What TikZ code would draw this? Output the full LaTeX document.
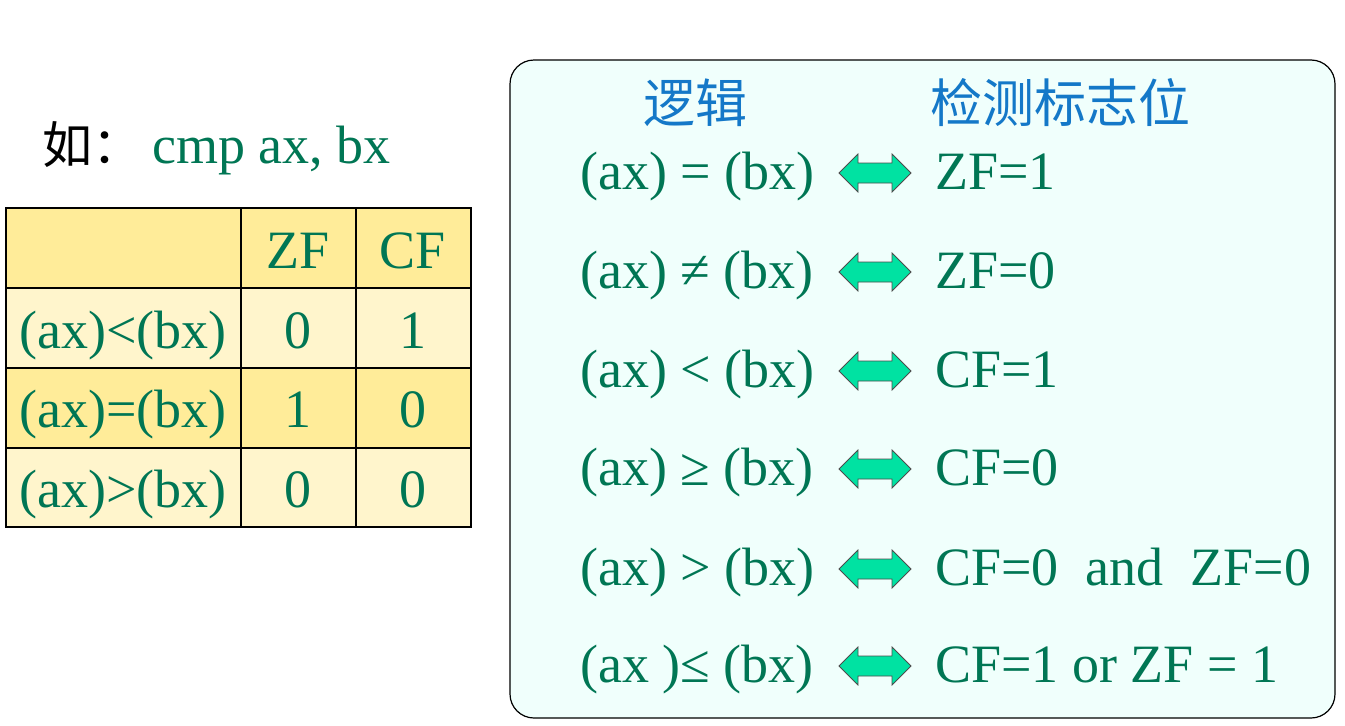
\documentclass[tikz,border=0pt]{standalone}
\usepackage{fontspec}
\setmainfont{Liberation Serif}
\newfontfamily\cjk{Noto Sans CJK SC}
\definecolor{txtgreen}{RGB}{0,118,84}
\definecolor{hdblue}{RGB}{20,120,200}
\definecolor{arrfill}{RGB}{0,226,162}
\definecolor{boxfill}{RGB}{240,255,252}
\definecolor{tdark}{RGB}{255,236,153}
\definecolor{tlight}{RGB}{255,245,204}
\tikzset{
  big/.style={font=\fontsize{54}{60}\selectfont, text=txtgreen, inner sep=0pt},
  cjkhead/.style={font=\cjk\fontsize{52}{58}\selectfont, text=hdblue, inner sep=0pt},
  lhs/.style={big, anchor=base west},
  rhs/.style={big, anchor=base west},
  cell/.style={big, anchor=base},
  tline/.style={line width=1.6pt, black},
  arrowstyle/.style={fill=arrfill, draw=black!70, line width=0.8pt, line join=miter},
  dblarrow/.pic={\draw[arrowstyle] (-36,0)--(-17,-19)--(-17,-10)--(17,-10)--(17,-19)--(36,0)--(17,19)--(17,10)--(-17,10)--(-17,19)--cycle;}
}
\begin{document}
\begin{tikzpicture}[x=1pt,y=-1pt]
\useasboundingbox[fill=white] (0,0) rectangle (1345,726);
% title
\node[anchor=base west, inner sep=0pt, font=\cjk\fontsize{50}{56}\selectfont] (ru) at (42,163) {如：};
\node[big, anchor=base west] (cmp) at (152,163) {cmp ax, bx};
% table fills
\fill[tdark] (6,208) rectangle (471,288);
\fill[tlight] (6,288) rectangle (471,368);
\fill[tdark] (6,368) rectangle (471,448);
\fill[tlight] (6,448) rectangle (471,527);
\draw[tline] (6,208) rectangle (471,527);
\foreach \yy in {288,368,448} \draw[tline] (6,\yy) -- (471,\yy);
\foreach \xx in {241,356} \draw[tline] (\xx,208) -- (\xx,527);
\node[cell] (hz) at (298,268) {ZF};
\node[cell] (hc) at (413,268) {CF};
\node[cell] (r1) at (123,348) {(ax)<(bx)};
\node[cell] (r1z) at (298,348) {0};
\node[cell] (r1c) at (413,348) {1};
\node[cell] (r2) at (123,427) {(ax)=(bx)};
\node[cell] (r2z) at (298,427) {1};
\node[cell] (r2c) at (413,427) {0};
\node[cell] (r3) at (123,507) {(ax)>(bx)};
\node[cell] (r3z) at (298,507) {0};
\node[cell] (r3c) at (413,507) {0};
% right box
\draw[fill=boxfill, draw=black, line width=1.2pt, rounded corners=24pt] (510,60) rectangle (1335,718);
\node[cjkhead] (h1) at (695,103) {逻辑};
\node[cjkhead] (h2) at (1060,103) {检测标志位};
% rows
\node[lhs] (l1) at (580,189) {(ax) = (bx)};
\node[lhs] (l2) at (580,288) {(ax) ≠ (bx)};
\node[lhs] (l3) at (580,387) {(ax) < (bx)};
\node[lhs] (l4) at (580,485) {(ax) ≥ (bx)};
\node[lhs] (l5) at (580,585) {(ax) > (bx)};
\node[lhs] (l6) at (580,682) {(ax )≤ (bx)};
\node[rhs] (f1) at (935,189) {ZF=1};
\node[rhs] (f2) at (935,288) {ZF=0};
\node[rhs] (f3) at (935,387) {CF=1};
\node[rhs] (f4) at (935,485) {CF=0};
\node[rhs] (f5) at (935,585) {CF=0\ \ and\ \ ZF=0};
\node[rhs] (f6) at (935,682) {CF=1 or ZF = 1};
\foreach \yy in {173,272,371,469,569,666} \pic at (875,\yy) {dblarrow};
\end{tikzpicture}
\end{document}
